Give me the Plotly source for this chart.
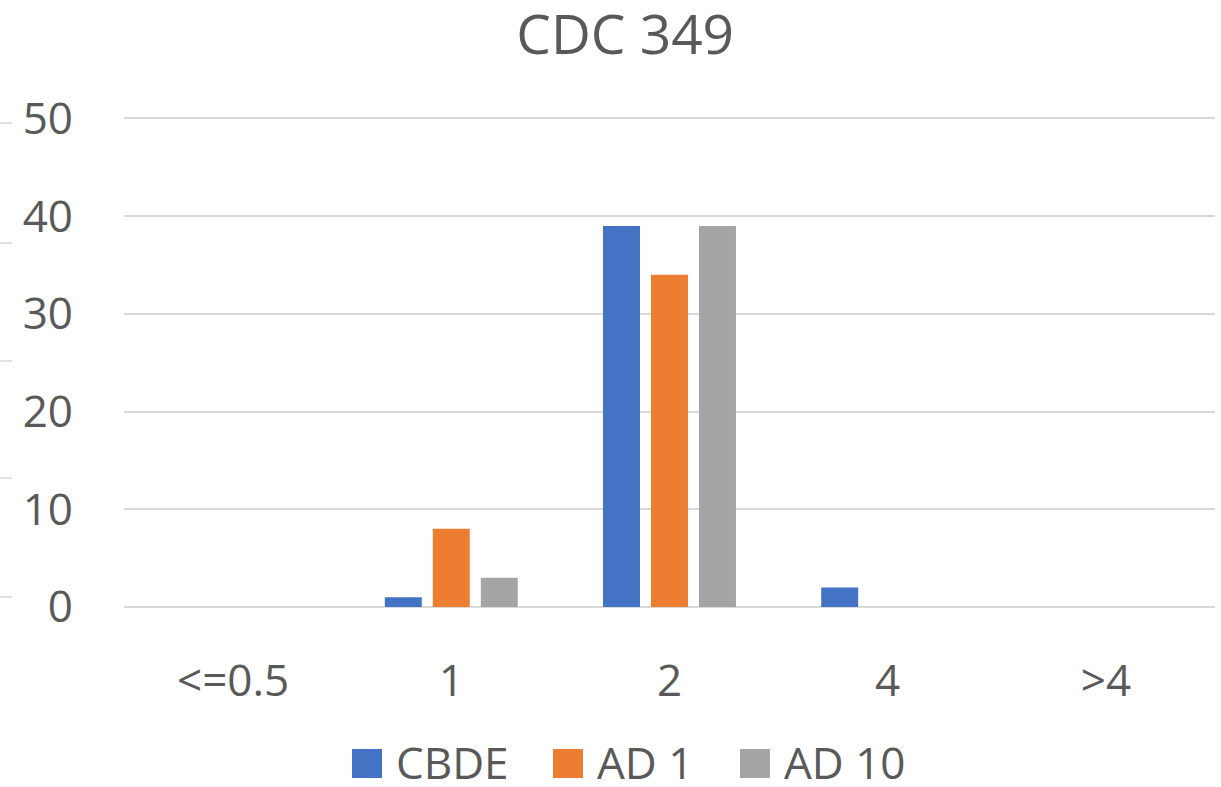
import plotly.graph_objects as go

categories = ["<=0.5", "1", "2", "4", ">4"]
cbde = [0, 1, 39, 2, 0]
ad1 = [0, 8, 34, 0, 0]
ad10 = [0, 3, 39, 0, 0]
series_names = ["CBDE", "AD 1", "AD 10"]
colors = ["#4472C4", "#ED7D31", "#A5A5A5"]
y_ticks = [0, 10, 20, 30, 40, 50]

FONT = "Open Sans"
TXT = "#595959"
GRID = "#D9D9D9"

W, H = 1221, 787
L, R, T, B = 124, 6, 117, 180
PW, PH = W - L - R, H - T - B


def px_x(x):
    return (x - L) / PW


def px_y(y):
    return (H - B - y) / PH


fig = go.Figure()
for name, vals, c in zip(series_names, [cbde, ad1, ad10], colors):
    fig.add_trace(go.Bar(x=categories, y=vals, name=name, showlegend=False,
                         marker=dict(color=c, line=dict(width=0))))

# small cropped gridline fragments at the left edge (from a neighbouring chart)
for yp in [123, 243, 361, 478, 597]:
    fig.add_shape(type="line", xref="paper", yref="paper",
                  x0=px_x(0), x1=px_x(12), y0=px_y(yp), y1=px_y(yp),
                  line=dict(color=GRID, width=1.5))

# legend (drawn manually to match large square swatches)
legend_sq_left = [352, 553, 740]
for name, c, xl in zip(series_names, colors, legend_sq_left):
    fig.add_shape(type="rect", xref="paper", yref="paper",
                  x0=px_x(xl), x1=px_x(xl + 30), y0=px_y(778), y1=px_y(749),
                  fillcolor=c, line=dict(width=0))
    fig.add_annotation(text=name, xref="paper", yref="paper", x=px_x(xl + 42), y=px_y(762),
                       xanchor="left", yanchor="middle", showarrow=False,
                       font=dict(family=FONT, size=44, color=TXT))

fig.update_layout(
    width=W, height=H,
    margin=dict(l=L, r=R, t=T, b=B, autoexpand=False),
    paper_bgcolor="white", plot_bgcolor="white",
    barmode="group", bargap=0.34, bargroupgap=0.23,
    title=dict(text="CDC 349", x=0.512, xanchor="center", y=1 - 35 / H, yanchor="middle",
               font=dict(family=FONT, size=55, color=TXT)),
    font=dict(family=FONT, color=TXT),
    xaxis=dict(showgrid=False, showline=False, zeroline=False, ticks="",
               tickfont=dict(family=FONT, size=44, color=TXT), ticklabelstandoff=44),
    yaxis=dict(range=[0, 50.15], tickvals=y_ticks, showgrid=True, gridcolor=GRID, gridwidth=1.5,
               zeroline=True, zerolinecolor=GRID, zerolinewidth=1.5, showline=False, ticks="",
               tickfont=dict(family=FONT, size=44, color=TXT), ticklabelstandoff=50),
    showlegend=False,
)

fig.write_html("out.html", config={"displayModeBar": False},
               post_script="document.body.style.margin='0';document.body.style.overflow='hidden';")
